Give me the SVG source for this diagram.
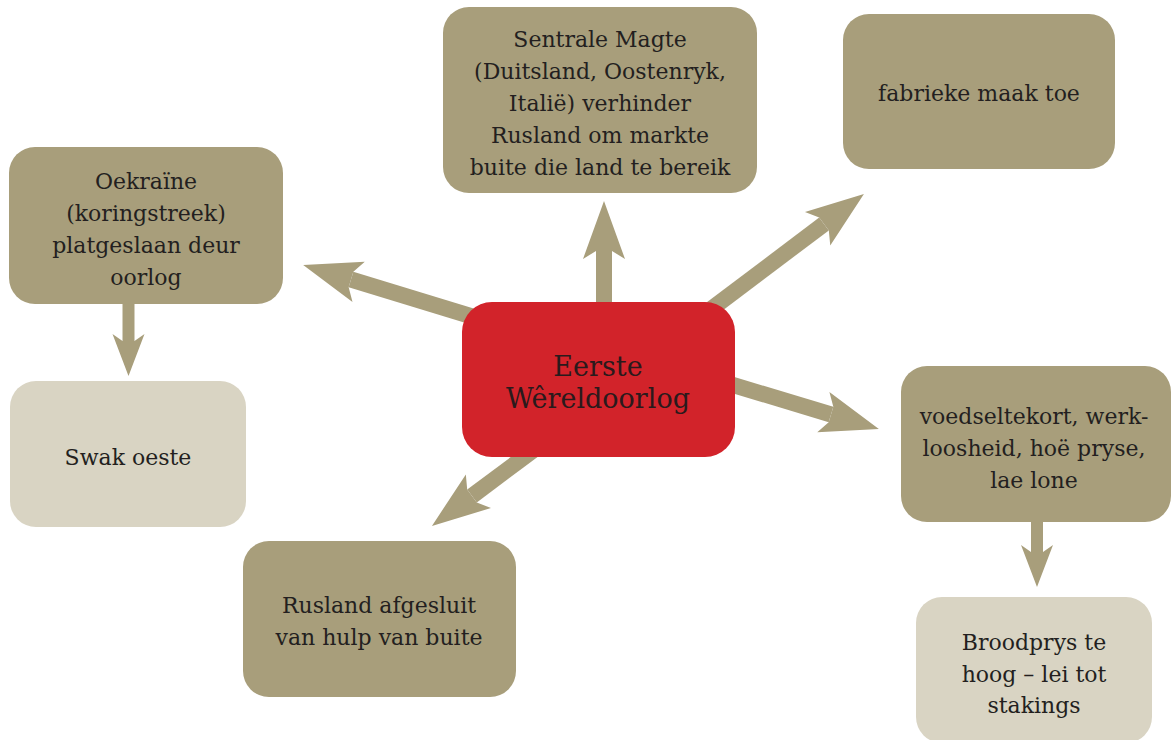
<svg xmlns="http://www.w3.org/2000/svg" width="1171" height="740" viewBox="0 0 1171 740">
<style>
.n{fill:#A89E7B}
.l{fill:#D9D4C3}
.c{fill:#D2232A}
text{font-family:"DejaVu Serif","Liberation Serif",serif;font-size:22px;fill:#231F20;text-anchor:middle}
.ct{font-size:27px;fill:#2A1A1C}
.cn line{stroke:#A89E7B;fill:none}
.big{stroke-width:16px}
.sm{stroke-width:12px}
</style>
<defs>
<marker id="hb" markerUnits="userSpaceOnUse" markerWidth="60" markerHeight="46" viewBox="0 -23 60 46" refX="8" refY="0" orient="auto" overflow="visible">
<path d="M0,-21 L58,0 L0,21 L8,8 L8,-8 Z" fill="#A89E7B"/>
</marker>
<marker id="hs" markerUnits="userSpaceOnUse" markerWidth="44" markerHeight="34" viewBox="0 -17 44 34" refX="7" refY="0" orient="auto" overflow="visible">
<path d="M0,-16 L42,0 L0,16 L7,6 L7,-6 Z" fill="#A89E7B"/>
</marker>
</defs>
<g class="cn" id="connectors">
<line class="big" x1="604" y1="320" x2="604" y2="251" marker-end="url(#hb)"/>
<line class="big" x1="500" y1="325" x2="351" y2="279.5" marker-end="url(#hb)"/>
<line class="big" x1="690" y1="325" x2="824" y2="224" marker-end="url(#hb)"/>
<line class="big" x1="710" y1="378" x2="831" y2="414.5" marker-end="url(#hb)"/>
<line class="big" x1="555" y1="434" x2="472" y2="496" marker-end="url(#hb)"/>
<line class="sm" x1="128.5" y1="300" x2="128.5" y2="341" marker-end="url(#hs)"/>
<line class="sm" x1="1037" y1="518" x2="1037" y2="552" marker-end="url(#hs)"/>
</g>
<g id="node-center">
<rect class="c" x="462" y="302" width="273" height="155" rx="30"/>
<text class="ct" x="598" y="376">Eerste</text>
<text class="ct" x="598" y="408">Wêreldoorlog</text>
</g>
<g id="node-sentrale">
<rect class="n" x="443" y="7" width="314" height="186" rx="26"/>
<text x="600" y="47">Sentrale Magte</text>
<text x="600" y="79">(Duitsland, Oostenryk,</text>
<text x="600" y="111">Italië) verhinder</text>
<text x="600" y="143">Rusland om markte</text>
<text x="600" y="175">buite die land te bereik</text>
</g>
<g id="node-fabrieke">
<rect class="n" x="843" y="14" width="272" height="155" rx="26"/>
<text x="979" y="101">fabrieke maak toe</text>
</g>
<g id="node-oekraine">
<rect class="n" x="9" y="147" width="274" height="157" rx="26"/>
<text x="146" y="189">Oekraïne</text>
<text x="146" y="221">(koringstreek)</text>
<text x="146" y="253">platgeslaan deur</text>
<text x="146" y="285">oorlog</text>
</g>
<g id="node-swak">
<rect class="l" x="10" y="381" width="236" height="146" rx="26"/>
<text x="128" y="465">Swak oeste</text>
</g>
<g id="node-rusland">
<rect class="n" x="243" y="541" width="273" height="156" rx="26"/>
<text x="379" y="613">Rusland afgesluit</text>
<text x="379" y="645">van hulp van buite</text>
</g>
<g id="node-voedsel">
<rect class="n" x="901" y="366" width="270" height="156" rx="26"/>
<text x="1034" y="424">voedseltekort, werk-</text>
<text x="1034" y="456">loosheid, hoë pryse,</text>
<text x="1034" y="488">lae lone</text>
</g>
<g id="node-brood">
<rect class="l" x="916" y="597" width="236" height="146" rx="26"/>
<text x="1034" y="650">Broodprys te</text>
<text x="1034" y="682">hoog – lei tot</text>
<text x="1034" y="713">stakings</text>
</g>
</svg>
